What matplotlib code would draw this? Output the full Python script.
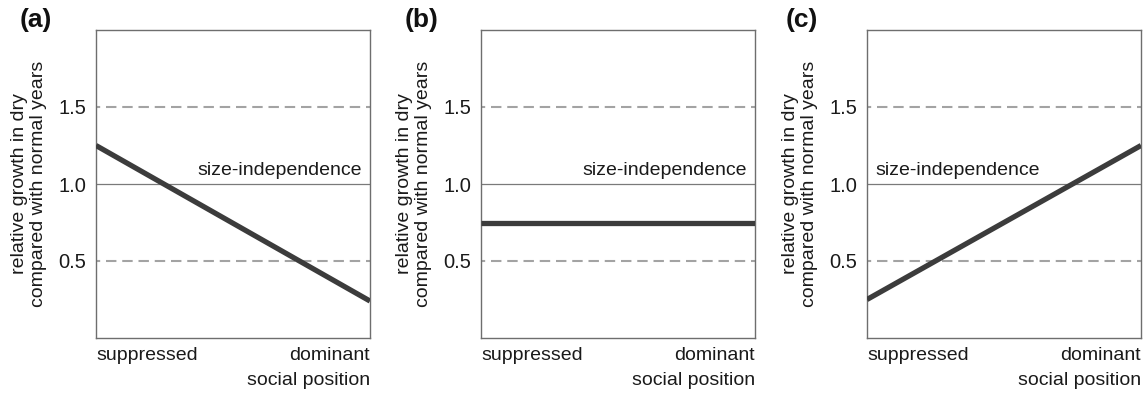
import numpy as np
import matplotlib
matplotlib.use('Agg')
from matplotlib import pyplot as plt

plt.rcParams['font.family'] = ['Liberation Sans', 'DejaVu Sans']

# hypothetical growth response vs. social position, one curve per scenario
panels = ['(a)', '(b)', '(c)']
position = [0.0, 1.0]   # suppressed -> dominant
growth_a = [1.25, 0.24]
growth_b = [0.75, 0.75]
growth_c = [0.25, 1.25]
yticks = [0.5, 1.0, 1.5]
ytick_labels = ['0.5', '1.0', '1.5']
ylabel = 'relative growth in dry\ncompared with normal years'
ref_label = 'size-independence'

W, H = 1146, 393
fig = plt.figure(figsize=(W / 100, H / 100), dpi=100)

lefts = [96, 481, 867]
series = [growth_a, growth_b, growth_c]
label_x = [20, 405, 786]
fs = 14

for i in range(3):
    ax = fig.add_axes([lefts[i] / W, 55 / H, 274 / W, 308 / H])
    ax.set_xlim(0, 1)
    ax.set_ylim(0, 2)

    # reference lines
    for yv in (0.5, 1.5):
        ax.axhline(yv, color='#a3a3a3', lw=1.5, linestyle=(3, (5, 2.8)), zorder=1)
    ax.axhline(1.0, color='#7a7a7a', lw=0.9, zorder=1)

    ax.plot(position, series[i], color='#3c3c3c', lw=3.8, solid_capstyle='butt', zorder=3)

    if i == 2:
        ax.text(0.03, 1.03, ref_label, ha='left', va='bottom', fontsize=fs, color='#1a1a1a')
    else:
        ax.text(0.97, 1.03, ref_label, ha='right', va='bottom', fontsize=fs, color='#1a1a1a')

    ax.set_yticks(yticks)
    ax.set_yticklabels(ytick_labels, fontsize=fs + 0.5, color='#1a1a1a')
    ax.tick_params(axis='y', length=0, pad=7)
    ax.set_xticks([])
    for s in ax.spines.values():
        s.set_color('#6e6e6e')
        s.set_linewidth(1.0)

    ax.text(-0.245, 0.5, ylabel, transform=ax.transAxes, rotation=90,
            ha='center', va='center', fontsize=fs, linespacing=1.1, color='#1a1a1a')

    ax.text(0.0, -0.03, 'suppressed', transform=ax.transAxes, ha='left', va='top',
            fontsize=fs, color='#1a1a1a')
    ax.text(1.0, -0.03, 'dominant', transform=ax.transAxes, ha='right', va='top',
            fontsize=fs, color='#1a1a1a')
    ax.text(1.0, -0.11, 'social position', transform=ax.transAxes, ha='right', va='top',
            fontsize=fs, color='#1a1a1a')

    fig.text(label_x[i] / W, 1 - 8 / H, panels[i], ha='left', va='top',
             fontsize=19, fontweight='bold', color='#111111')

fig.savefig('out.png', dpi=100)
